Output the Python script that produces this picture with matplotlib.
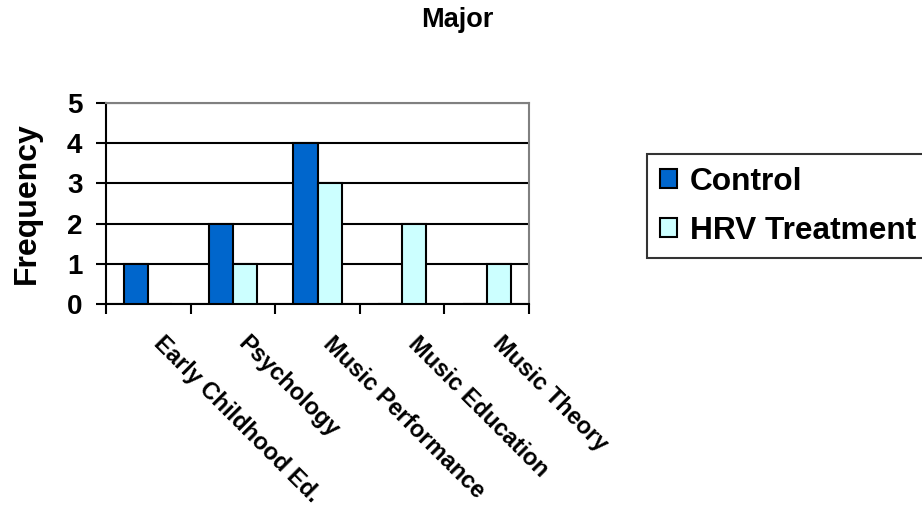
import numpy as np
import matplotlib
matplotlib.use("Agg")
import matplotlib.pyplot as plt
from matplotlib.transforms import ScaledTranslation

plt.rcParams['font.family'] = ['Liberation Sans', 'DejaVu Sans']
plt.rcParams['font.weight'] = 'bold'

# data
majors = ["Early Childhood Ed.", "Psychology", "Music Performance",
          "Music Education", "Music Theory"]
control = [1, 2, 4, 0, 0]
hrv_treatment = [0, 1, 3, 2, 1]
series_names = ["Control", "HRV Treatment"]
y_ticks = [0, 1, 2, 3, 4, 5]

ctrl_color = "#0066CC"
hrv_color = "#CCFFFF"

fig = plt.figure(figsize=(9.22, 5.08), dpi=100)
ax = fig.add_axes([106 / 922, 1 - 304 / 508, (529 - 106) / 922, (304 - 103) / 508])

x = np.arange(len(majors))
w = 0.286
ax.bar(x - w / 2, control, w, color=ctrl_color, edgecolor="black",
       linewidth=1.5, label=series_names[0], zorder=3)
ax.bar(x + w / 2, hrv_treatment, w, color=hrv_color, edgecolor="black",
       linewidth=1.5, label=series_names[1], zorder=3)

ax.set_xlim(-0.5, len(majors) - 0.5)
ax.set_ylim(0, 5)
ax.set_yticks(y_ticks)
ax.set_yticklabels([str(t) for t in y_ticks], fontsize=20, fontweight="bold")
ax.tick_params(axis="y", length=7, width=1.5, pad=10, direction="out")

# category labels at the centers, tick marks on the boundaries
ax.set_xticks(x)
ax.set_xticklabels(majors, fontsize=17, fontweight="bold", rotation=-45,
                   ha="left", va="center", rotation_mode="anchor")
ax.tick_params(axis="x", which="major", length=0, pad=26)
shift = ScaledTranslation(0.09, 0, fig.dpi_scale_trans)
for lbl in ax.get_xticklabels():
    lbl.set_transform(lbl.get_transform() + shift)
ax.set_xticks(np.arange(-0.5, len(majors)), minor=True)
ax.tick_params(axis="x", which="minor", length=7, width=1.5, direction="out")

ax.yaxis.grid(True, color="black", linewidth=1.5, zorder=0)
ax.set_axisbelow(True)
for side in ["left", "bottom"]:
    ax.spines[side].set_color("black")
    ax.spines[side].set_linewidth(1.5)
for side in ["top", "right"]:
    ax.spines[side].set_color("#808080")
    ax.spines[side].set_linewidth(1.5)

ax.set_ylabel("Frequency", fontsize=23, fontweight="bold", labelpad=18)

fig.text(0.496, 1 - 20 / 508, "Major", fontsize=19.5, fontweight="bold",
         ha="center", va="center")

# legend box runs past the right edge of the figure
leg = fig.legend(loc="upper left", mode="expand",
                 bbox_to_anchor=(647 / 922, 1 - 154 / 508, 0.35, 0),
                 borderaxespad=0, fontsize=22.8, frameon=True, fancybox=False,
                 edgecolor="black", handlelength=0.56, handleheight=0.56,
                 handletextpad=0.4, borderpad=0.4, labelspacing=0.6)
leg.get_frame().set_linewidth(1.5)
for t in leg.get_texts():
    t.set_fontweight("bold")

fig.savefig("out.png", dpi=100)
